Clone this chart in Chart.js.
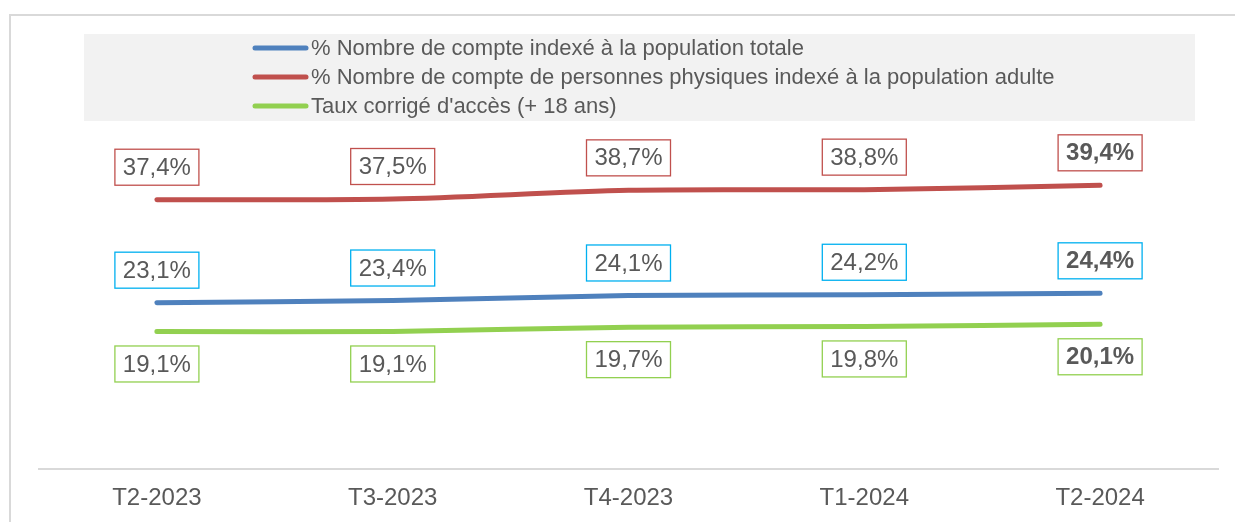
<!DOCTYPE html>
<html>
<head>
<meta charset="utf-8">
<script src="https://cdn.jsdelivr.net/npm/chart.js@4"></script>
<style>
  html, body { margin: 0; padding: 0; background: #ffffff; }
  #wrap { width: 1235px; height: 522px; position: relative; }
</style>
</head>
<body>
<div id="wrap"><canvas id="c" width="1235" height="522"></canvas></div>
<script>
const categories = ["T2-2023", "T3-2023", "T4-2023", "T1-2024", "T2-2024"];
const seriesNames = [
  "% Nombre de compte indexé à la population totale",
  "% Nombre de compte de personnes physiques indexé à la population adulte",
  "Taux corrigé d'accès (+ 18 ans)"
];
const totalPopulation = [23.1, 23.4, 24.1, 24.2, 24.4];
const adultPopulation = [37.4, 37.5, 38.7, 38.8, 39.4];
const correctedAccess = [19.1, 19.1, 19.7, 19.8, 20.1];

const lineColors = ["#4F81BD", "#C0504D", "#92D050"];
const labelBorderColors = ["#00B0F0", "#C0504D", "#92D050"];
const labelOffsets = [-32.5, -32.5, 32.5];
const TEXT = "#595959";
const FONT = "'Liberation Sans', Arial, sans-serif";

function fmt(v) { return v.toFixed(1).replace('.', ',') + '%'; }

const framePlugin = {
  id: 'frame',
  beforeDraw(chart) {
    const ctx = chart.ctx;
    ctx.save();
    ctx.fillStyle = '#ffffff';
    ctx.fillRect(0, 0, chart.width, chart.height);
    ctx.strokeStyle = '#d9d9d9';
    ctx.lineWidth = 2;
    ctx.beginPath();
    ctx.moveTo(10, chart.height + 2);
    ctx.lineTo(10, 15);
    ctx.lineTo(chart.width + 2, 15);
    ctx.stroke();
    // legend box
    ctx.fillStyle = '#f2f2f2';
    ctx.fillRect(84, 34, 1111, 87);
    const rows = [48, 77, 106];
    chart.data.datasets.forEach((ds, i) => {
      ctx.strokeStyle = ds.borderColor;
      ctx.lineWidth = 5;
      ctx.lineCap = 'round';
      ctx.beginPath();
      ctx.moveTo(255, rows[i]);
      ctx.lineTo(306, rows[i]);
      ctx.stroke();
      ctx.fillStyle = TEXT;
      ctx.font = "22px " + FONT;
      ctx.textAlign = 'left';
      ctx.textBaseline = 'middle';
      ctx.fillText(ds.label, 311, rows[i] + 1);
    });
    ctx.restore();
  }
};

const labelPlugin = {
  id: 'boxLabels',
  afterDatasetsDraw(chart) {
    const ctx = chart.ctx;
    ctx.save();
    chart.data.datasets.forEach((ds, i) => {
      const meta = chart.getDatasetMeta(i);
      meta.data.forEach((pt, j) => {
        const last = j === meta.data.length - 1;
        const cx = pt.x;
        const cy = pt.y + labelOffsets[i];
        const w = 84, h = 36;
        ctx.fillStyle = '#ffffff';
        ctx.fillRect(cx - w / 2, cy - h / 2, w, h);
        ctx.strokeStyle = labelBorderColors[i];
        ctx.lineWidth = 1.3;
        ctx.strokeRect(cx - w / 2, cy - h / 2, w, h);
        ctx.fillStyle = TEXT;
        ctx.font = (last ? "bold " : "") + "24px " + FONT;
        ctx.textAlign = 'center';
        ctx.textBaseline = 'middle';
        ctx.fillText(fmt(ds.data[j]), cx, cy + 1);
      });
    });
    ctx.restore();
  }
};

const seriesData = [totalPopulation, adultPopulation, correctedAccess];

new Chart(document.getElementById('c'), {
  type: 'line',
  data: {
    labels: categories,
    datasets: seriesNames.map((name, i) => ({
      label: name,
      data: seriesData[i],
      borderColor: lineColors[i],
      backgroundColor: lineColors[i],
      borderWidth: 5,
      borderCapStyle: 'round',
      borderJoinStyle: 'round',
      pointRadius: 0,
      tension: 0.3,
      fill: false
    }))
  },
  options: {
    responsive: false,
    animation: false,
    devicePixelRatio: 1,
    layout: { padding: { left: 39, right: 17, top: 109, bottom: 0 } },
    plugins: {
      legend: { display: false },
      tooltip: { enabled: false },
      title: { display: false }
    },
    scales: {
      x: {
        offset: true,
        grid: { display: false, drawTicks: false },
        border: { display: true, color: '#d9d9d9', width: 2 },
        ticks: { color: TEXT, font: { family: FONT, size: 24 }, padding: 15, maxRotation: 0 },
        afterFit(scale) { scale.height = 53; }
      },
      y: {
        display: false,
        min: 0,
        max: 50
      }
    }
  },
  plugins: [framePlugin, labelPlugin]
});
</script>
</body>
</html>
